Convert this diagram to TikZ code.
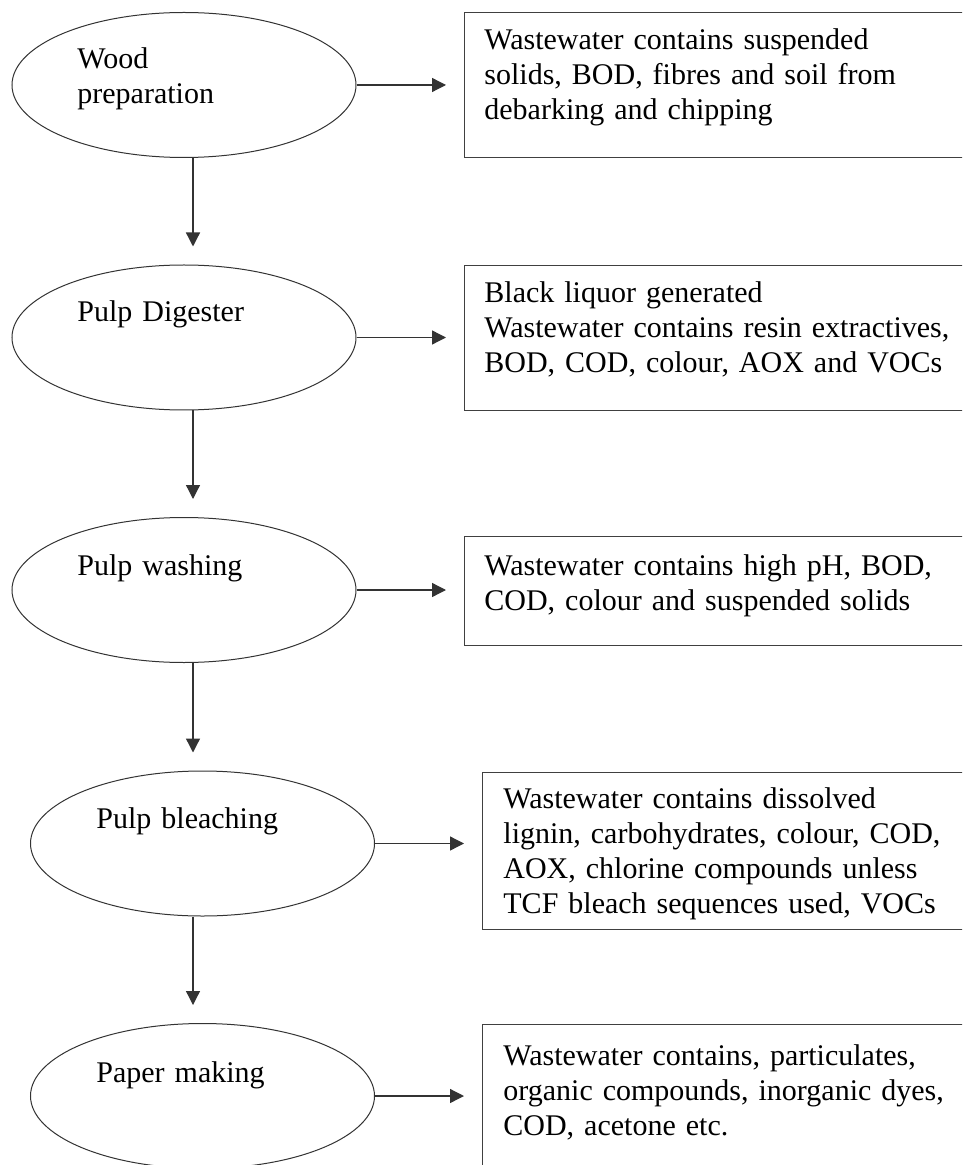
\documentclass[tikz,border=0pt]{standalone}
\usepackage{fontspec}
\setmainfont{Liberation Serif}
\usetikzlibrary{shapes.geometric,arrows.meta}
\begin{document}
\begin{tikzpicture}[x=0.5pt,y=-0.5pt,
    stage/.style={ellipse,draw=black!80,line width=0.5pt,minimum width=172pt,minimum height=72.5pt,inner sep=0pt},
    waste/.style={rectangle,draw=black!75,line width=0.65pt,anchor=north west,minimum width=270pt,inner sep=0pt},
    txt/.style={anchor=base west,inner sep=0pt,text width=240pt,align=left,font=\fontsize{15}{17.5}\selectfont},
    flow/.style={draw=black!80,line width=0.65pt,-{Triangle[length=7pt,width=7pt]},shorten >=9pt}]
    \clip (0,0) rectangle (962,1165);
    \coordinate (col) at (193,0);
    \node[stage] (wood) at (184,85) {};
    \node[stage] (digest) at (184,337.5) {};
    \node[stage] (wash) at (184,590) {};
    \node[stage] (bleach) at (202.5,843.5) {};
    \node[stage] (paper) at (202.5,1096) {};
    \node[txt] (woodtxt) at (77,69) {Wood\\preparation};
    \node[txt] (digesttxt) at (77,322) {Pulp Digester};
    \node[txt] (washtxt) at (77,575) {Pulp washing};
    \node[txt] (bleachtxt) at (96,828) {Pulp bleaching};
    \node[txt] (papertxt) at (96,1082) {Paper making};
    \node[waste,minimum height=72.5pt] (woodbox) at (464,12) {};
    \node[waste,minimum height=72.5pt] (digestbox) at (464,265) {};
    \node[waste,minimum height=54.5pt] (washbox) at (464,536) {};
    \node[waste,minimum height=78.5pt] (bleachbox) at (482,772) {};
    \node[waste,minimum height=80pt] (paperbox) at (482,1024) {};
    \node[txt] (woodwaste) at (484,50) {Wastewater contains suspended\\solids, BOD, fibres and soil from\\debarking and chipping};
    \node[txt] (digestwaste) at (484,303) {Black liquor generated\\Wastewater contains resin extractives,\\BOD, COD, colour, AOX and VOCs};
    \node[txt] (washwaste) at (484,575) {Wastewater contains high pH, BOD,\\COD, colour and suspended solids};
    \node[txt] (bleachwaste) at (503,808) {Wastewater contains dissolved\\lignin, carbohydrates, colour, COD,\\AOX, chlorine compounds unless\\TCF bleach sequences used, VOCs};
    \node[txt] (paperwaste) at (503,1065) {Wastewater contains, particulates,\\organic compounds, inorganic dyes,\\COD, acetone etc.};
    \draw[flow] (wood.south -| col) -- (digest.north -| col);
    \draw[flow] (digest.south -| col) -- (wash.north -| col);
    \draw[flow] (wash.south -| col) -- (bleach.north -| col);
    \draw[flow] (bleach.south -| col) -- (paper.north -| col);
    \draw[flow] (wood.east) -- (wood.east -| woodbox.west);
    \draw[flow] (digest.east) -- (digest.east -| digestbox.west);
    \draw[flow] (wash.east) -- (wash.east -| washbox.west);
    \draw[flow] (bleach.east) -- (bleach.east -| bleachbox.west);
    \draw[flow] (paper.east) -- (paper.east -| paperbox.west);
\end{tikzpicture}
\end{document}
